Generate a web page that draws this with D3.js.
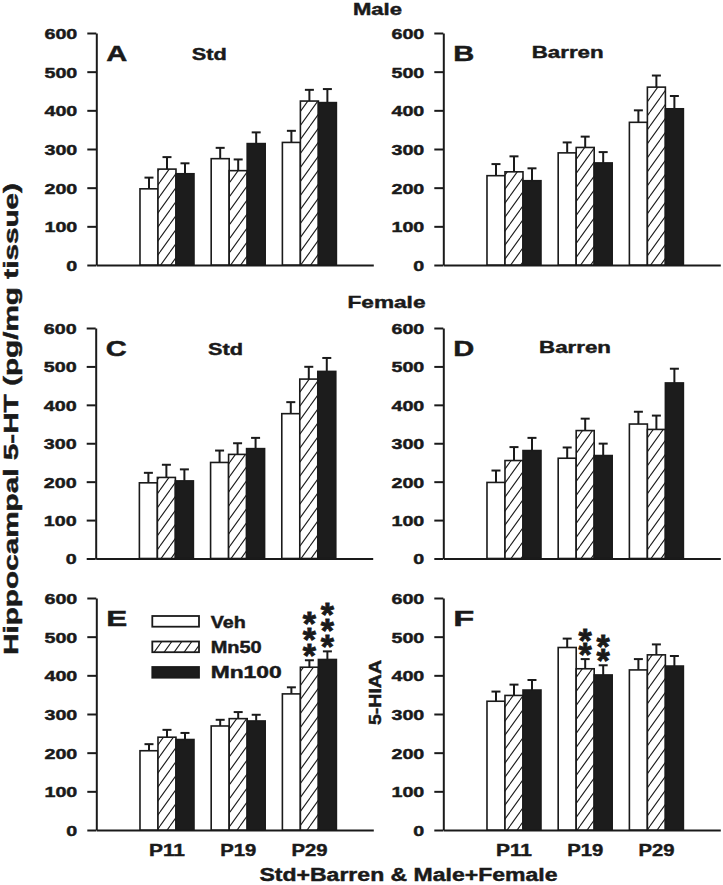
<!DOCTYPE html>
<html><head><meta charset="utf-8">
<script src="https://cdn.jsdelivr.net/npm/d3@7"></script>
<style>
html,body{margin:0;padding:0;background:#fff;}
svg{display:block;}
text{font-family:"Liberation Sans",Arial,sans-serif;font-weight:bold;fill:#1a1a1a;stroke:#1a1a1a;stroke-width:0.45px;}
</style></head><body>
<svg id="chart" width="723" height="885"></svg>
<script>
// ---------- data ----------
const ages = ["P11", "P19", "P29"];
const treatments = ["Veh", "Mn50", "Mn100"];
const yTicks = [0, 100, 200, 300, 400, 500, 600];
// values indexed [age][treatment]
const meanA = [[197, 248, 236], [275, 244, 314], [317, 424, 420]];
const semA  = [[29, 31, 27], [28, 29, 29], [30, 29, 35]];
const meanB = [[231, 241, 218], [290, 304, 264], [369, 460, 404]];
const semB  = [[30, 40, 32], [27, 28, 28], [31, 30, 33]];
const meanC = [[197, 211, 202], [250, 271, 286], [377, 467, 487]];
const semC  = [[26, 33, 30], [31, 29, 28], [30, 32, 35]];
const meanD = [[198, 255, 281], [261, 333, 268], [350, 336, 457]];
const semD  = [[31, 35, 33], [28, 31, 31], [32, 36, 37]];
const meanE = [[205, 240, 234], [269, 288, 282], [352, 421, 441]];
const semE  = [[17, 19, 17], [16, 17, 16], [17, 18, 21]];
const meanF = [[333, 348, 362], [472, 417, 401], [414, 453, 424]];
const semF  = [[25, 28, 26], [23, 25, 25], [28, 27, 26]];
const sigE = [{age: "P29", treatment: "Mn50", n: 3}, {age: "P29", treatment: "Mn100", n: 3}];
const sigF = [{age: "P19", treatment: "Mn50", n: 2}, {age: "P19", treatment: "Mn100", n: 2}];
const panelLetters = ["A", "B", "C", "D", "E", "F"];
const conditionLabels = ["Std", "Barren", "Std", "Barren"];
const sexLabels = ["Male", "Female"];
const yTitle = "Hippocampal 5-HT (pg/mg tissue)";
const xTitle = "Std+Barren & Male+Female";
const sideLabel = "5-HIAA";

// ---------- layout ----------
const svg = d3.select("#chart");
const defs = svg.append("defs");
const pat = defs.append("pattern").attr("id", "hatch").attr("patternUnits", "userSpaceOnUse")
  .attr("width", 10).attr("height", 14);
pat.append("rect").attr("width", 10).attr("height", 14).attr("fill", "#fff");
[[-10, 14, 0, 0], [0, 14, 10, 0], [10, 14, 20, 0]].forEach(c => {
  pat.append("line").attr("x1", c[0]).attr("y1", c[1]).attr("x2", c[2]).attr("y2", c[3])
    .attr("stroke", "#1a1a1a").attr("stroke-width", 1.1);
});
const fills = {Veh: "#ffffff", Mn50: "url(#hatch)", Mn100: "#1c1c1c"};

const panels = [
  {mean: meanA, sem: semA, ax: 96.3, top: 33, bottom: 265, cond: 0, condX: 95.4, condDy: 27, condW: 35},
  {mean: meanB, sem: semB, ax: 443.3, top: 33, bottom: 265, cond: 1, condX: 88.4, condDy: 25.3, condW: 72},
  {mean: meanC, sem: semC, ax: 95.7, top: 328, bottom: 558.5, cond: 2, condX: 112.3, condDy: 27, condW: 35},
  {mean: meanD, sem: semD, ax: 443.3, top: 328, bottom: 558.5, cond: 3, condX: 95.7, condDy: 25, condW: 72},
  {mean: meanE, sem: semE, ax: 96.3, top: 598, bottom: 830, xLabels: true, sig: sigE, starGap: 16, legend: true},
  {mean: meanF, sem: semF, ax: 443.3, top: 598, bottom: 830, xLabels: true, sig: sigF, starGap: 14.5, side: true}
];

function fit(sel, w) { sel.attr("textLength", w).attr("lengthAdjust", "spacingAndGlyphs"); }

panels.forEach((p, pi) => {
  const g = svg.append("g");
  const y = d3.scaleLinear().domain([0, 600]).range([p.bottom, p.top]);
  const x = d3.scaleBand().domain(ages).range([p.ax, p.ax + 277])
    .paddingInner(0.2416).paddingOuter(0.566).align(0.542);
  const xs = d3.scaleBand().domain(treatments).range([0, x.bandwidth()]);

  // y axis
  const ya = g.append("g").attr("transform", `translate(${p.ax},0)`)
    .call(d3.axisLeft(y).tickValues(yTicks).tickSize(9).tickSizeOuter(0).tickPadding(10));
  ya.attr("font-family", null).attr("font-size", null);
  ya.selectAll("path,line").attr("stroke", "#1a1a1a").attr("stroke-width", 2);
  ya.selectAll("text").style("font-size", "15.5px").attr("dy", "0.35em")
    .each(function () { fit(d3.select(this), this.getComputedTextLength() * 1.27); });

  // x axis
  const xa = g.append("g").attr("transform", `translate(0,${p.bottom})`)
    .call(d3.axisBottom(x).tickSize(0).tickSizeOuter(0).tickPadding(0));
  xa.attr("font-family", null).attr("font-size", null);
  xa.select("path").attr("stroke", "#1a1a1a").attr("stroke-width", 2);
  if (p.xLabels) {
    xa.selectAll("text").style("font-size", "17px").attr("y", 26).attr("dy", 0)
      .each(function () { fit(d3.select(this), 36); });
  } else {
    xa.selectAll("text").remove();
  }

  // bars
  const rows = [];
  ages.forEach((a, i) => treatments.forEach((t, j) => rows.push({a, t, m: p.mean[i][j], s: p.sem[i][j]})));
  const cx = d => x(d.a) + xs(d.t) + xs.bandwidth() / 2;
  g.selectAll(".err").data(rows).join("line")
    .attr("x1", cx).attr("x2", cx).attr("y1", d => y(d.m)).attr("y2", d => y(d.m + d.s))
    .attr("stroke", "#1a1a1a").attr("stroke-width", 2);
  g.selectAll(".cap").data(rows).join("line")
    .attr("x1", d => cx(d) - 4.5).attr("x2", d => cx(d) + 4.5)
    .attr("y1", d => y(d.m + d.s)).attr("y2", d => y(d.m + d.s))
    .attr("stroke", "#1a1a1a").attr("stroke-width", 2);
  g.selectAll(".bar").data(rows).join("rect")
    .attr("x", d => x(d.a) + xs(d.t)).attr("width", xs.bandwidth())
    .attr("y", d => y(d.m)).attr("height", d => y(0) - y(d.m))
    .attr("fill", d => fills[d.t]).attr("stroke", "#1a1a1a").attr("stroke-width", 1.6);

  // panel letter
  g.append("text").attr("x", p.ax + 10).attr("y", p.top + 27.5).style("font-size", "22px")
    .text(panelLetters[pi]).call(fit, 21);
  if (p.cond !== undefined) {
    g.append("text").attr("x", p.ax + p.condX).attr("y", p.top + p.condDy).style("font-size", "17px")
      .text(conditionLabels[p.cond]).call(fit, p.condW);
  }

  // significance stars: one text element per column, glyphs positioned individually
  if (p.sig) {
    p.sig.forEach(s => {
      const i = ages.indexOf(s.age), j = treatments.indexOf(s.treatment);
      const d = {a: s.age, t: s.treatment, m: p.mean[i][j], s: p.sem[i][j]};
      const base = y(d.m + d.s) - 11 + 18;
      const ks = d3.range(s.n);
      g.append("text").attr("text-anchor", "middle")
        .attr("x", ks.map(() => cx(d).toFixed(2)).join(" "))
        .attr("y", ks.map(k => (base - k * p.starGap).toFixed(2)).join(" "))
        .style("font-size", "34px").style("stroke-width", "0.8px")
        .text("*".repeat(s.n));
    });
  }

  // legend
  if (p.legend) {
    treatments.forEach((t, i) => {
      g.append("rect").attr("x", p.ax + 56).attr("y", p.top + 18 + i * 25.5)
        .attr("width", 46.7).attr("height", 10.7).attr("fill", fills[t])
        .attr("stroke", "#1a1a1a").attr("stroke-width", 1.8);
      g.append("text").attr("x", p.ax + 114.4).attr("y", p.top + 29.7 + i * 25.3)
        .style("font-size", "16px").text(t).call(fit, [35, 51, 71][i]);
    });
  }
  if (p.side) {
    g.append("text").attr("transform", `translate(${p.ax - 62.8},692.5) rotate(-90)`)
      .attr("text-anchor", "middle").style("font-size", "16px").text(sideLabel).call(fit, 65);
  }
});

// global labels
svg.append("text").attr("x", 377.5).attr("y", 15).attr("text-anchor", "middle")
  .style("font-size", "17px").text(sexLabels[0]).call(fit, 49);
svg.append("text").attr("x", 386.5).attr("y", 308).attr("text-anchor", "middle")
  .style("font-size", "17px").text(sexLabels[1]).call(fit, 78);
svg.append("text").attr("transform", "translate(18,419) rotate(-90)").attr("text-anchor", "middle")
  .style("font-size", "20px").text(yTitle).call(fit, 472);
svg.append("text").attr("x", 408.5).attr("y", 881).attr("text-anchor", "middle")
  .style("font-size", "18px").text(xTitle).call(fit, 298);
</script>
</body></html>
